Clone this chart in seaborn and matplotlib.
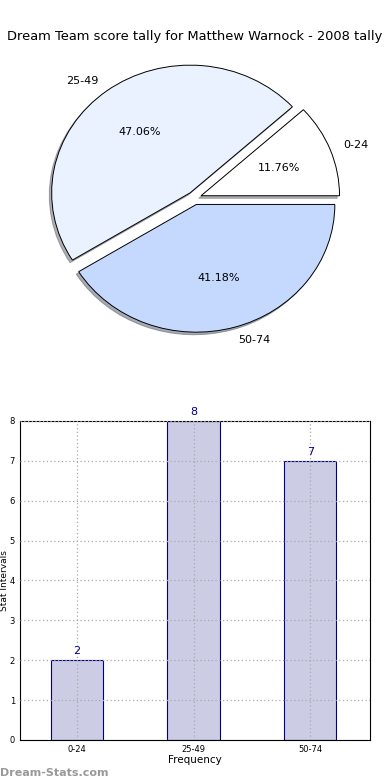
import matplotlib
matplotlib.use('Agg')
import matplotlib.pyplot as plt
import seaborn as sns
import pandas as pd

# Data
intervals = ['0-24', '25-49', '50-74']
counts = [2, 8, 7]
pie_colors = ['#FFFFFF', '#EAF1FF', '#C5D9FF']
title = 'Dream Team score tally for Matthew Warnock - 2008 tally'

df = pd.DataFrame({'interval': intervals, 'count': counts})

sns.set_style('white')
plt.rcParams['font.family'] = ['DejaVu Sans']
plt.rcParams['text.color'] = 'black'
plt.rcParams['axes.labelcolor'] = 'black'
plt.rcParams['xtick.color'] = 'black'
plt.rcParams['ytick.color'] = 'black'

fig = plt.figure(figsize=(3.9, 7.8), dpi=100)
fig.suptitle(title, x=0.5, y=0.962, fontsize=9.4)

# Pie chart (top)
ax_pie = fig.add_axes([0.041, 0.535, 0.915, 0.422])
ax_pie.pie(df['count'], labels=df['interval'], colors=pie_colors,
           explode=[0.05, 0.05, 0.05], autopct='%.2f%%',
           shadow={'ox': -0.012, 'oy': -0.014, 'shade': 0.6},
           startangle=0, labeldistance=1.1, pctdistance=0.6, radius=0.97,
           wedgeprops={'edgecolor': 'black', 'linewidth': 0.7},
           textprops={'fontsize': 8})
ax_pie.set_aspect('auto')
ax_pie.set_xlim(-1.25, 1.25)
ax_pie.set_ylim(-1.25, 1.25)

# Bar chart (bottom)
ax_bar = fig.add_axes([0.051, 0.0513, 0.897, 0.409])
sns.barplot(data=df, x='interval', y='count', color='#CCCCE5', saturation=1,
            width=0.45, edgecolor='#000080', linewidth=0.8, ax=ax_bar)
ax_bar.set_xlim(-0.49, 2.51)
ax_bar.set_ylim(0, 8)
ax_bar.set_yticks(range(0, 9))
ax_bar.tick_params(labelsize=6, length=2, pad=1.5)
ax_bar.grid(True, linestyle=(0, (1, 2)), color='#AAAAAA', linewidth=0.9)
ax_bar.set_axisbelow(False)
for sp in ax_bar.spines.values():
    sp.set_color('black')
    sp.set_linewidth(0.8)
ax_bar.set_xlabel('Frequency', fontsize=7.5, labelpad=1)
ax_bar.set_ylabel('Stat Intervals', fontsize=6.5)
ax_bar.yaxis.set_label_coords(-0.031, 0.5)
for i, c in enumerate(counts):
    ax_bar.text(i, c + 0.1, str(c), ha='center', va='bottom', fontsize=8, color='#000080', clip_on=False)

fig.text(0.0, 0.003, 'Dream-Stats.com', fontsize=8, color='#999999', fontweight='bold', ha='left', va='bottom')

fig.savefig('out.png', dpi=100)
